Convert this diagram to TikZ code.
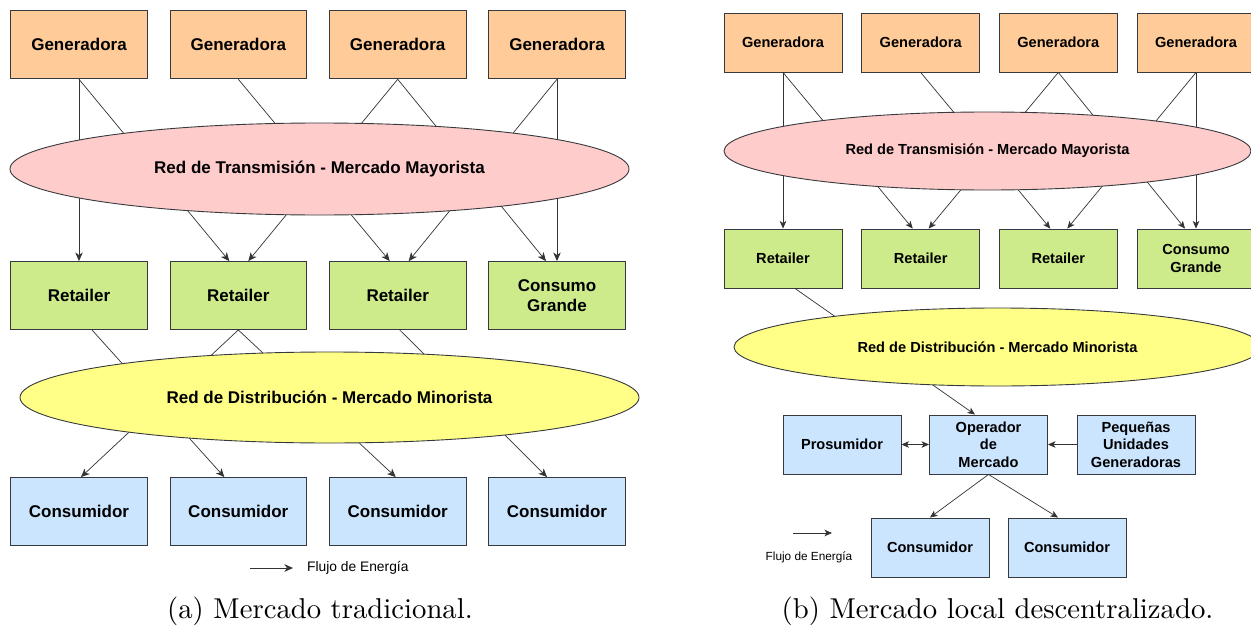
\documentclass[tikz,border=0pt]{standalone}
\usepackage{fontspec}
\newfontfamily\diafont{Liberation Sans}
\newfontfamily\capfont{lmroman10-regular}[Extension=.otf]
\usetikzlibrary{shapes.geometric,arrows.meta}

\definecolor{genfill}{HTML}{FFCC99}
\definecolor{retfill}{HTML}{CDEB8B}
\definecolor{confill}{HTML}{CCE5FF}
\definecolor{trafill}{HTML}{FFCCCC}
\definecolor{disfill}{HTML}{FFFF88}
\definecolor{bordercol}{HTML}{36393D}
\definecolor{linecol}{HTML}{333333}

\tikzset{
  bigtext/.style={font=\diafont\bfseries\fontsize{17}{20}\selectfont},
  smalltext/.style={font=\diafont\bfseries\fontsize{14.6}{17.5}\selectfont},
  bigbox/.style={draw=bordercol, line width=0.9pt, inner sep=0pt, align=center,
    minimum width=136.5pt, minimum height=68pt, bigtext},
  smallbox/.style={draw=bordercol, line width=0.9pt, inner sep=0pt, align=center,
    minimum width=118pt, minimum height=59pt, smalltext},
  oval/.style={ellipse, draw=bordercol, line width=0.9pt, inner sep=0pt, align=center},
  link/.style={draw=linecol, line width=0.7pt},
  flow/.style={link, -{Stealth[length=8.5pt,width=7.5pt,inset=2.5pt]}},
  sflow/.style={link, -{Stealth[length=7.5pt,width=6.5pt,inset=2pt]}},
  legendtext/.style={inner sep=0pt, text=black},
  caption/.style={inner sep=0pt, anchor=base, font=\capfont\fontsize{28.7}{32}\selectfont}
}

\begin{document}
\begin{tikzpicture}[x=1pt,y=-1pt]
\clip (0,0) rectangle (1251,626);
\fill[white] (0,0) rectangle (1251,626);

% ---------------- (a) traditional market ----------------
\foreach \i/\x in {1/79,2/238.3,3/397.7,4/557}{
  \node[bigbox, fill=genfill] (ga\i) at (\x,44.8) {Generadora};
}
\node[bigbox, fill=retfill] (ra1) at (79,295.5) {Retailer};
\node[bigbox, fill=retfill] (ra2) at (238.3,295.5) {Retailer};
\node[bigbox, fill=retfill] (ra3) at (397.7,295.5) {Retailer};
\node[bigbox, fill=retfill] (ra4) at (557,295.5) {Consumo\\Grande};
\foreach \i/\x in {1/79,2/238.3,3/397.7,4/557}{
  \node[bigbox, fill=confill] (ca\i) at (\x,511.5) {Consumidor};
}

% generation to retailers (run behind the transmission network)
\draw[flow] (ga1.south) -- (ra1.north);
\draw[flow] (ga1.south) -- ([xshift=-9pt]ra2.north);
\draw[flow] (ga3.south) -- ([xshift=10pt]ra2.north);
\draw[flow] (ga2.south) -- ([xshift=-8pt]ra3.north);
\draw[flow] (ga4.south) -- ([xshift=11pt]ra3.north);
\draw[flow] (ga3.south) -- ([xshift=-11pt]ra4.north);
\draw[flow] (ga4.south) -- (ra4.north);

% retailers to consumers (run behind the distribution network)
\draw[flow] ([xshift=13pt]ra1.south) -- ([xshift=-14pt]ca2.north);
\draw[flow] (ra2.south) -- ([xshift=2pt]ca1.north);
\draw[flow] (ra2.south) -- ([xshift=-2pt]ca3.north);
\draw[flow] ([xshift=2pt]ra3.south) -- ([xshift=-10pt]ca4.north);

\node[oval, fill=trafill, minimum width=619pt, minimum height=92pt, bigtext] (tra)
  at (319.5,169) {Red de Transmisión - Mercado Mayorista};
\node[oval, fill=disfill, minimum width=619pt, minimum height=91pt, bigtext] (dia)
  at (329.5,397.5) {Red de Distribución - Mercado Minorista};

% legend
\coordinate (lga0) at (250,568);
\coordinate (lga1) at (293,568);
\draw[flow] (lga0) -- (lga1);
\node[legendtext, anchor=west, font=\diafont\fontsize{13.8}{16}\selectfont] (lgta) at (307,568) {Flujo de Energía};

\node[caption] (capa) at (320,618) {(a) Mercado tradicional.};

% ---------------- (b) decentralised local market ----------------
\foreach \i/\x in {1/783,2/920.7,3/1058.3,4/1196}{
  \node[smallbox, fill=genfill] (gb\i) at (\x,42.5) {Generadora};
}
\node[smallbox, fill=retfill] (rb1) at (783,258.5) {Retailer};
\node[smallbox, fill=retfill] (rb2) at (920.7,258.5) {Retailer};
\node[smallbox, fill=retfill] (rb3) at (1058.3,258.5) {Retailer};
\node[smallbox, fill=retfill] (rb4) at (1196,258.5) {Consumo\\Grande};

\node[smallbox, fill=confill] (pro) at (842,444.5) {Prosumidor};
\node[smallbox, fill=confill] (op) at (988.5,444.5) {Operador\\de\\Mercado};
\node[smallbox, fill=confill] (peq) at (1136,444.5) {Pequeñas\\Unidades\\Generadoras};
\node[smallbox, fill=confill] (cb1) at (930,547.5) {Consumidor};
\node[smallbox, fill=confill] (cb2) at (1067,547.5) {Consumidor};

\draw[sflow] (gb1.south) -- (rb1.north);
\draw[sflow] (gb1.south) -- ([xshift=-8pt]rb2.north);
\draw[sflow] (gb3.south) -- ([xshift=8pt]rb2.north);
\draw[sflow] (gb2.south) -- ([xshift=-8pt]rb3.north);
\draw[sflow] (gb4.south) -- ([xshift=9pt]rb3.north);
\draw[sflow] (gb3.south) -- ([xshift=-11pt]rb4.north);
\draw[sflow] (gb4.south) -- (rb4.north);

\draw[sflow] ([xshift=12pt]rb1.south) -- ([xshift=-13.5pt]op.north);

\node[oval, fill=trafill, minimum width=527pt, minimum height=78pt, smalltext] (trb)
  at (987.5,151) {Red de Transmisión - Mercado Mayorista};
\node[oval, fill=disfill, minimum width=527pt, minimum height=78pt, smalltext] (dib)
  at (997.5,347) {Red de Distribución - Mercado Minorista};

\draw[link, {Stealth[length=7.5pt,width=6.5pt,inset=2pt]}-{Stealth[length=7.5pt,width=6.5pt,inset=2pt]}] (pro.east) -- (op.west);
\draw[sflow] (peq.west) -- (op.east);
\draw[sflow] (op.south) -- (cb1.north);
\draw[sflow] (op.south) -- ([xshift=-9pt]cb2.north);

% legend
\coordinate (lgb0) at (793,533);
\coordinate (lgb1) at (832,533);
\draw[sflow] (lgb0) -- (lgb1);
\node[legendtext, font=\diafont\fontsize{11.8}{14}\selectfont] (lgtb) at (809,557) {Flujo de Energía};

\node[caption] (capb) at (997.5,618) {(b) Mercado local descentralizado.};
\end{tikzpicture}
\end{document}
